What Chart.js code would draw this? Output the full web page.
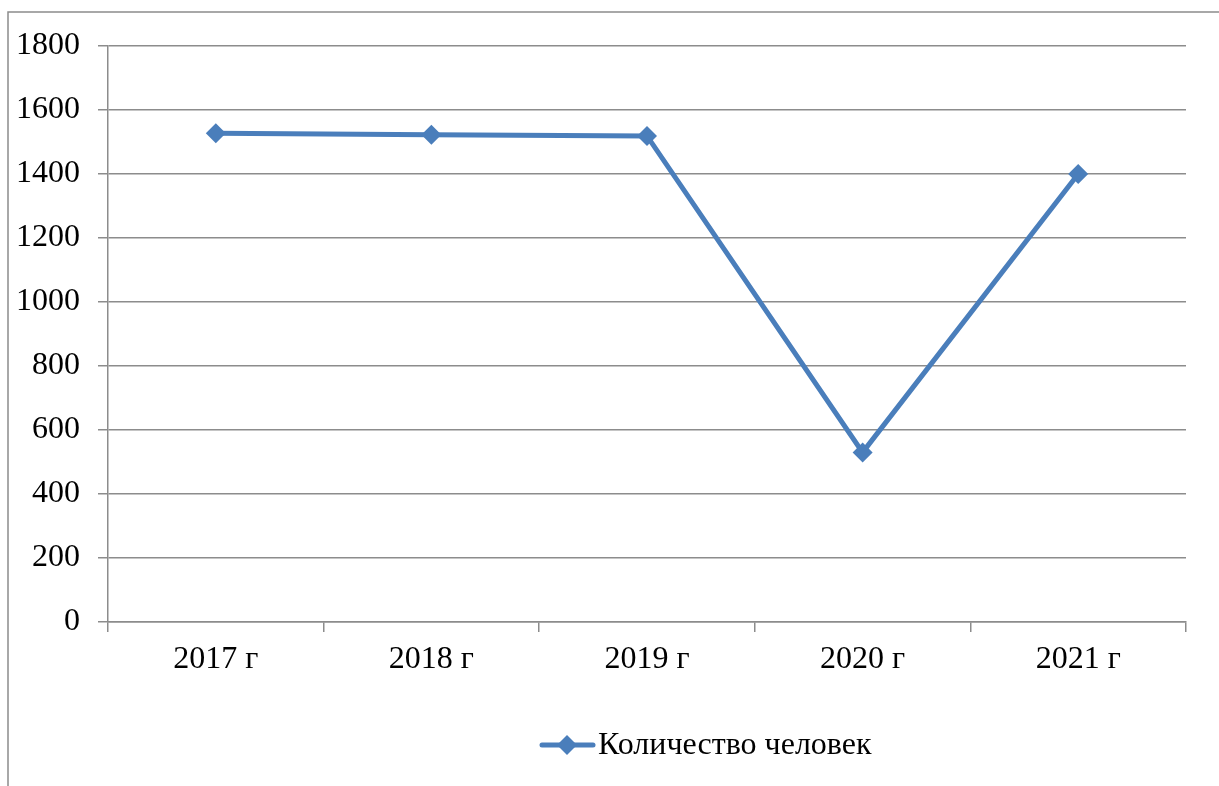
<!DOCTYPE html>
<html>
<head>
<meta charset="utf-8">
<script src="https://cdn.jsdelivr.net/npm/chart.js@4/dist/chart.umd.min.js"></script>
<style>
html,body{margin:0;padding:0;background:#fff;}
#wrap{width:1219px;height:786px;position:relative;}
</style>
</head>
<body>
<div id="wrap"><canvas id="c" width="1219" height="786"></canvas></div>
<script>
const categories = ['2017 г', '2018 г', '2019 г', '2020 г', '2021 г'];
const seriesLabel = 'Количество человек';
const seriesValues = [1527, 1523, 1519, 530, 1400];
const yTicks = [0, 200, 400, 600, 800, 1000, 1200, 1400, 1600, 1800];

const FONT = "'Liberation Serif', 'Times New Roman', serif";
const FONT_SIZE = 32;
const BLUE = '#4a7ebb';
const GRID = '#8c8c8c';

const framePlugin = {
  id: 'frame',
  beforeDraw(chart) {
    const ctx = chart.ctx;
    ctx.save();
    ctx.strokeStyle = GRID;
    ctx.lineWidth = 1.5;
    ctx.strokeRect(8, 12, 1400, 1000);
    ctx.restore();
  }
};

const legendPlugin = {
  id: 'customLegend',
  afterDraw(chart) {
    const ds = chart.data.datasets[0];
    const ctx = chart.ctx;
    const cy = 745;
    ctx.save();
    ctx.strokeStyle = ds.borderColor;
    ctx.lineWidth = ds.borderWidth;
    ctx.lineCap = 'round';
    ctx.beginPath();
    ctx.moveTo(542, cy);
    ctx.lineTo(593, cy);
    ctx.stroke();
    ctx.fillStyle = ds.pointBackgroundColor;
    const r = ds.pointRadius;
    ctx.beginPath();
    ctx.moveTo(567, cy - r);
    ctx.lineTo(567 + r, cy);
    ctx.lineTo(567, cy + r);
    ctx.lineTo(567 - r, cy);
    ctx.closePath();
    ctx.fill();
    ctx.fillStyle = '#000';
    ctx.font = FONT_SIZE + 'px ' + FONT;
    ctx.textBaseline = 'middle';
    ctx.textAlign = 'left';
    ctx.fillText(ds.label, 598, cy + 1);
    ctx.restore();
  }
};

new Chart(document.getElementById('c'), {
  type: 'line',
  data: {
    labels: categories,
    datasets: [{
      label: seriesLabel,
      data: seriesValues,
      borderColor: BLUE,
      backgroundColor: BLUE,
      pointBackgroundColor: BLUE,
      pointBorderColor: BLUE,
      borderWidth: 5,
      pointStyle: 'rectRot',
      pointRadius: 10,
      pointBorderWidth: 0,
      tension: 0
    }]
  },
  plugins: [framePlugin, legendPlugin],
  options: {
    responsive: false,
    animation: false,
    devicePixelRatio: 1,
    layout: { padding: { top: 46, right: 33, bottom: 84, left: 0 } },
    plugins: {
      legend: { display: false },
      tooltip: { enabled: false },
      title: { display: false }
    },
    scales: {
      x: {
        type: 'category',
        offset: true,
        afterFit(scale) { scale.height = 80; },
        grid: {
          offset: true,
          drawOnChartArea: false,
          drawTicks: true,
          tickLength: 10,
          color: GRID,
          lineWidth: 1.5
        },
        border: { display: true, color: GRID, width: 1.5 },
        ticks: {
          color: '#000',
          font: { family: FONT, size: FONT_SIZE },
          padding: 8,
          maxRotation: 0,
          autoSkip: false
        }
      },
      y: {
        min: 0,
        max: 1800,
        afterFit(scale) { scale.width = 108; },
        afterBuildTicks(scale) { scale.ticks = yTicks.map(v => ({ value: v })); },
        grid: {
          drawTicks: true,
          tickLength: 10,
          color: GRID,
          lineWidth: 1.5
        },
        border: { display: true, color: GRID, width: 1.5 },
        ticks: {
          color: '#000',
          font: { family: FONT, size: FONT_SIZE },
          padding: 18,
          callback: (v) => String(v)
        }
      }
    }
  }
});
</script>
</body>
</html>
